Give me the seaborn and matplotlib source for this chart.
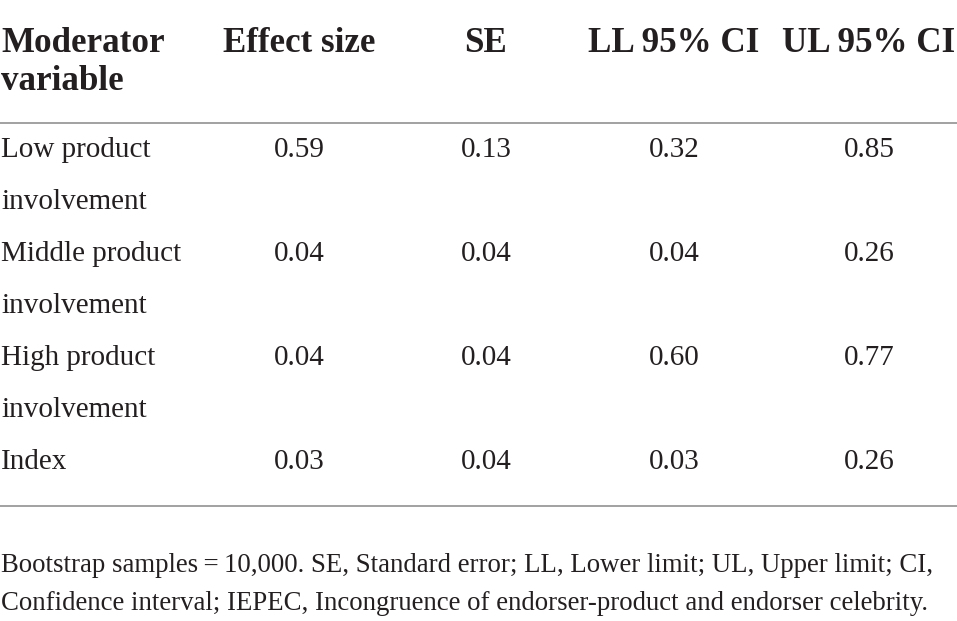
import matplotlib
matplotlib.use("Agg")
import matplotlib.pyplot as plt
import seaborn as sns

# Table content
headers = [["Moderator", "variable"], ["Effect size"], ["SE"], ["LL 95% CI"], ["UL 95% CI"]]
moderators = [["Low product", "involvement"],
              ["Middle product", "involvement"],
              ["High product", "involvement"],
              ["Index"]]
effect_size = ["0.59", "0.04", "0.04", "0.03"]
se = ["0.13", "0.04", "0.04", "0.04"]
ll_ci = ["0.32", "0.04", "0.60", "0.03"]
ul_ci = ["0.85", "0.26", "0.77", "0.26"]
footnote = ["Bootstrap samples\u2009=\u200910,000. SE, Standard error; LL, Lower limit; UL, Upper limit; CI,",
            "Confidence interval; IEPEC, Incongruence of endorser-product and endorser celebrity."]

sns.set_theme(style="white")
plt.rcParams["font.family"] = ["Liberation Serif", "DejaVu Serif"]

text_color = "#231f20"
rule_color = "#9a9a9a"

fig = plt.figure(figsize=(9.57, 6.21), dpi=100)
ax = fig.add_axes([0, 0, 1, 1])
ax.set_xlim(0, 957)
ax.set_ylim(621, 0)
ax.axis("off")

col_x = [1, 299, 486, 674, 869]
body_x = [1, 299, 486, 674, 869]
line_h = 52

# header
for i, lines in enumerate(headers):
    for j, t in enumerate(lines):
        ax.text(col_x[i], 43 + j * 39, t, ha="left" if i == 0 else "center", va="center",
                fontsize=25.2, fontweight="bold", color=text_color)

ax.axhline(123, color=rule_color, lw=1.3)

row_y = 150
for k, name in enumerate(moderators):
    for j, t in enumerate(name):
        ax.text(body_x[0], row_y + j * line_h, t, ha="left", va="center",
                fontsize=21, color=text_color)
    for i, col in enumerate([effect_size, se, ll_ci, ul_ci], start=1):
        ax.text(body_x[i], row_y, col[k], ha="center", va="center",
                fontsize=21, color=text_color)
    row_y += line_h * len(name)

ax.axhline(506, color=rule_color, lw=1.3)

for j, t in enumerate(footnote):
    ax.text(1, 566 + j * 38, t, ha="left", va="center", fontsize=19.3, color=text_color)

fig.savefig("out.png", dpi=100)
